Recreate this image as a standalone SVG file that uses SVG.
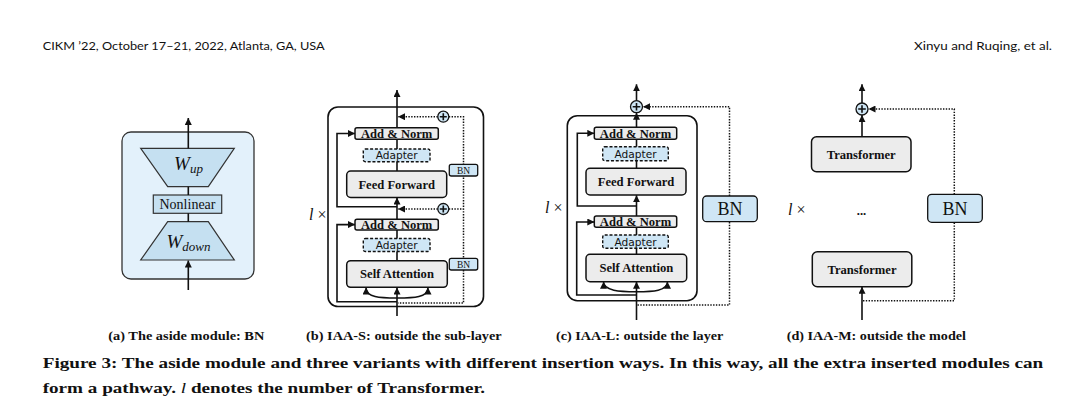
<svg xmlns="http://www.w3.org/2000/svg" width="1070" height="411" viewBox="0 0 1070 411">
<defs>
<marker id="ah" viewBox="0 0 10 10" refX="10" refY="5" markerWidth="7" markerHeight="7" markerUnits="userSpaceOnUse" orient="auto"><path d="M0,0 L10,5 L0,10 z" fill="#111"/></marker>
</defs>
<style>
.ln{fill:none;stroke:#111;stroke-width:1.6}
.dt{fill:none;stroke:#111;stroke-width:1.5;stroke-dasharray:1.4 1.4}
.box{fill:#ececec;stroke:#111;stroke-width:1.5}
.blue{fill:#cfe6f5;stroke:#111;stroke-width:1.3}
.ad{fill:#cfe6f5;stroke:#111;stroke-width:1.4;stroke-dasharray:3 1.8}
.outer{fill:#fff;stroke:#111;stroke-width:1.6}
.bt{font-family:"Liberation Serif","Times New Roman",serif;font-weight:bold;font-size:12.6px;fill:#111;text-anchor:middle}
.at{font-family:"DejaVu Sans",sans-serif;font-size:10.6px;fill:#111;text-anchor:middle}
.sr{font-family:"Liberation Serif","Times New Roman",serif;fill:#111;text-anchor:middle}
.cap{font-family:"Liberation Serif","Times New Roman",serif;font-weight:bold;font-size:12px;fill:#111}
.fig{font-family:"Liberation Serif","Times New Roman",serif;font-weight:bold;font-size:15.5px;fill:#111}
.hd{font-family:Lato,"Liberation Sans",sans-serif;font-size:11px;fill:#111}
.lx{font-family:"Liberation Serif","Times New Roman",serif;font-size:16px;fill:#111}
</style>
<rect width="1070" height="411" fill="#fff"/>

<!-- header -->
<text class="hd" x="42.7" y="50" textLength="282" lengthAdjust="spacingAndGlyphs">CIKM ’22, October 17–21, 2022, Atlanta, GA, USA</text>
<text class="hd" x="914" y="50" textLength="138" lengthAdjust="spacingAndGlyphs">Xinyu and Ruqing, et al.</text>

<!-- Panel (a) -->
<g id="panel-a">
<rect x="122" y="132" width="132" height="147" rx="9" fill="#e3f1fb" stroke="#333" stroke-width="1.3"/>
<g id="a-wup">
<polygon points="140.7,148.3 234.3,148.3 208.3,186.7 167.7,186.7" fill="#c5e0f1" stroke="#333" stroke-width="1.2"/>
<text class="sr" x="188.5" y="170" font-size="19" font-style="italic">W<tspan font-size="13" dy="3">up</tspan></text>
</g>
<g id="a-nonlinear">
<rect x="153.3" y="195" width="68.4" height="18.3" fill="#c5e0f1" stroke="#333" stroke-width="1.2"/>
<text class="sr" x="187.5" y="208.5" font-size="14">Nonlinear</text>
</g>
<g id="a-wdown">
<polygon points="167.7,221.7 208.3,221.7 234.3,260 140.7,260" fill="#c5e0f1" stroke="#333" stroke-width="1.2"/>
<text class="sr" x="188.5" y="248" font-size="19" font-style="italic">W<tspan font-size="13" dy="3">down</tspan></text>
</g>
</g>

<!-- Panel (b) -->
<g id="panel-b">
<rect class="outer" x="328" y="107" width="155.5" height="199.5" rx="10"/>
<text class="lx" x="309" y="220"><tspan font-style="italic">l</tspan> ×</text>
</g>
<g id="b-connectors">
<path class="ln" d="M397,316 V287.5" marker-end="url(#ah)"/>
<path class="ln" d="M397,260.7 V230"/>
<path class="ln" d="M397,219.3 V197.5" marker-end="url(#ah)"/>
<path class="ln" d="M397,171 V139.3"/>
<path class="ln" d="M397,127.7 V90" marker-end="url(#ah)"/>
<path class="ln" d="M397,206.7 H337 V133.5 H355" marker-end="url(#ah)"/>
<path class="ln" d="M397,301.7 H337 V224.6 H355" marker-end="url(#ah)"/>
<path class="ln" d="M397,298 C380,298 366,297.5 366,287.5" marker-end="url(#ah)"/>
<path class="ln" d="M397,298 C414,298 428,297.5 428,287.5" marker-end="url(#ah)"/>
<path class="dt" d="M437.8,116.7 H398" marker-end="url(#ah)"/>
<path class="dt" d="M437.8,209 H398" marker-end="url(#ah)"/>
<path class="dt" d="M448.8,116.7 H463.5 V303 H398"/>
<path class="dt" d="M448.8,209 H463.5"/>
</g>
<g id="b-addnorm2">
<rect class="box" x="355" y="127.7" width="83.3" height="11.6" rx="2"/>
<text class="bt" x="396.7" y="138">Add &amp; Norm</text>
</g>
<g id="b-adapter2">
<rect class="ad" x="363.3" y="149" width="66.7" height="12.7" rx="2"/>
<text class="at" x="396.7" y="159.3">Adapter</text>
</g>
<g id="b-ff">
<rect class="box" x="346.7" y="171" width="100" height="26.5" rx="4"/>
<text class="bt" x="396.7" y="188.6">Feed Forward</text>
</g>
<g id="b-addnorm1">
<rect class="box" x="355" y="219.3" width="83.3" height="10.8" rx="2"/>
<text class="bt" x="396.7" y="229.2">Add &amp; Norm</text>
</g>
<g id="b-adapter1">
<rect class="ad" x="363.3" y="238.5" width="66.7" height="13" rx="2"/>
<text class="at" x="396.7" y="249">Adapter</text>
</g>
<g id="b-sa">
<rect class="box" x="346.7" y="260.7" width="100.6" height="26.6" rx="4"/>
<text class="bt" x="397" y="278.3">Self Attention</text>
</g>
<g id="b-bn2">
<rect class="blue" x="449.3" y="164.3" width="28.4" height="11.7" rx="2"/>
<text class="sr" x="463.5" y="173.6" font-size="9.5">BN</text>
</g>
<g id="b-bn1">
<rect class="blue" x="449.3" y="258.3" width="28.4" height="11.7" rx="2"/>
<text class="sr" x="463.5" y="267.6" font-size="9.5">BN</text>
</g>
<g id="b-plus2">
<circle class="blue" cx="443.3" cy="116.7" r="5.5" stroke-width="1.5"/>
<path class="ln" d="M439.8,116.7 H446.8 M443.3,113.2 V120.2" stroke-width="1.4"/>
</g>
<g id="b-plus1">
<circle class="blue" cx="443.3" cy="209" r="5.5" stroke-width="1.5"/>
<path class="ln" d="M439.8,209 H446.8 M443.3,205.5 V212.5" stroke-width="1.4"/>
</g>

<!-- Panel (c) -->
<g id="panel-c">
<rect class="outer" x="567.3" y="115.7" width="129.7" height="185" rx="10"/>
<text class="lx" x="545" y="213"><tspan font-style="italic">l</tspan> ×</text>
</g>
<g id="c-connectors">
<path class="ln" d="M636.5,320 V281.8" marker-end="url(#ah)"/>
<path class="ln" d="M636.5,254.3 V227.3"/>
<path class="ln" d="M636.5,216 V195.2" marker-end="url(#ah)"/>
<path class="ln" d="M636.5,168.3 V139.3"/>
<path class="ln" d="M636.5,127.3 V112.8" marker-end="url(#ah)"/>
<path class="ln" d="M636.5,100.6 V84.3" marker-end="url(#ah)"/>
<path class="ln" d="M636.5,206 H577.3 V133.3 H594.3" marker-end="url(#ah)"/>
<path class="ln" d="M636.5,295 H576.7 V222 H594.3" marker-end="url(#ah)"/>
<path class="ln" d="M636.5,291.7 C620,291.7 603.5,291 603.5,281.8" marker-end="url(#ah)"/>
<path class="ln" d="M636.5,291.7 C653,291.7 667.5,291 667.5,281.8" marker-end="url(#ah)"/>
<path class="dt" d="M637.5,305 H729.5 V221.7"/>
<path class="dt" d="M729.5,196 V106.7 H643" marker-end="url(#ah)"/>
</g>
<g id="c-addnorm2">
<rect class="box" x="594.3" y="127.3" width="82.4" height="12" rx="2"/>
<text class="bt" x="635.5" y="137.9">Add &amp; Norm</text>
</g>
<g id="c-adapter2">
<rect class="ad" x="602.7" y="146.7" width="65.6" height="14" rx="2"/>
<text class="at" x="635.5" y="157.7">Adapter</text>
</g>
<g id="c-ff">
<rect class="box" x="586" y="168.3" width="100" height="26.7" rx="4"/>
<text class="bt" x="636" y="186">Feed Forward</text>
</g>
<g id="c-addnorm1">
<rect class="box" x="594.3" y="216" width="82.4" height="11.3" rx="2"/>
<text class="bt" x="635.5" y="226.2">Add &amp; Norm</text>
</g>
<g id="c-adapter1">
<rect class="ad" x="602.7" y="235" width="65.6" height="13.3" rx="2"/>
<text class="at" x="635.5" y="245.7">Adapter</text>
</g>
<g id="c-sa">
<rect class="box" x="586" y="254.3" width="100.7" height="27.4" rx="4"/>
<text class="bt" x="636.3" y="272.3">Self Attention</text>
</g>
<g id="c-bn">
<rect class="blue" x="702.7" y="196" width="54.6" height="25.7" rx="4" stroke-width="1.5"/>
<text class="sr" x="730" y="215.3" font-size="18">BN</text>
</g>
<g id="c-plus">
<circle class="blue" cx="636.5" cy="106.7" r="6" stroke-width="1.5"/>
<path class="ln" d="M632.7,106.7 H640.3 M636.5,102.9 V110.5" stroke-width="1.4"/>
</g>

<!-- Panel (d) -->
<g id="panel-d">
<text class="lx" x="788" y="215"><tspan font-style="italic">l</tspan> ×</text>
<text class="bt" x="861.5" y="215" font-size="14">...</text>
</g>
<g id="d-connectors">
<path class="ln" d="M862,320 V286.8" marker-end="url(#ah)"/>
<path class="ln" d="M862,136.7 V115.1" marker-end="url(#ah)"/>
<path class="ln" d="M862,102.9 V84.3" marker-end="url(#ah)"/>
<path class="dt" d="M863,300.7 H954.3 V222.3"/>
<path class="dt" d="M954.3,194.3 V109 H868.5" marker-end="url(#ah)"/>
</g>
<g id="d-transformer-top">
<rect class="box" x="811.5" y="136.7" width="99.5" height="35" rx="5"/>
<text class="bt" x="861.2" y="158.8">Transformer</text>
</g>
<g id="d-transformer-bottom">
<rect class="box" x="812.3" y="251.7" width="99.5" height="35" rx="5"/>
<text class="bt" x="862" y="273.8">Transformer</text>
</g>
<g id="d-bn">
<rect class="blue" x="927.7" y="194.3" width="54.6" height="28" rx="4" stroke-width="1.5"/>
<text class="sr" x="955" y="214.8" font-size="18">BN</text>
</g>
<g id="d-plus">
<circle class="blue" cx="862" cy="109" r="6" stroke-width="1.5"/>
<path class="ln" d="M858.2,109 H865.8 M862,105.2 V112.8" stroke-width="1.4"/>
</g>

<!-- panel (a) connectors -->
<g id="a-connectors">
<path class="ln" d="M188.3,148.3 V118" marker-end="url(#ah)"/>
<path class="ln" d="M188.3,186.7 V195 M188.3,213.3 V221.7" stroke-width="1.2"/>
<path class="ln" d="M188.3,290 V260.5" marker-end="url(#ah)"/>
</g>

<!-- captions -->
<text class="cap" x="108.3" y="340" textLength="156" lengthAdjust="spacingAndGlyphs">(a) The aside module: BN</text>
<text class="cap" x="306" y="340" textLength="195.7" lengthAdjust="spacingAndGlyphs">(b) IAA-S: outside the sub-layer</text>
<text class="cap" x="556" y="340" textLength="167.3" lengthAdjust="spacingAndGlyphs">(c) IAA-L: outside the layer</text>
<text class="cap" x="786.7" y="340" textLength="179.3" lengthAdjust="spacingAndGlyphs">(d) IAA-M: outside the model</text>
<text class="fig" x="42.7" y="368.3" textLength="1000.6" lengthAdjust="spacingAndGlyphs">Figure 3: The aside module and three variants with different insertion ways. In this way, all the extra inserted modules can</text>
<text class="fig" x="42.7" y="392.7" textLength="442.3" lengthAdjust="spacingAndGlyphs">form a pathway. <tspan font-style="italic" font-weight="normal">l</tspan> denotes the number of Transformer.</text>
</svg>
